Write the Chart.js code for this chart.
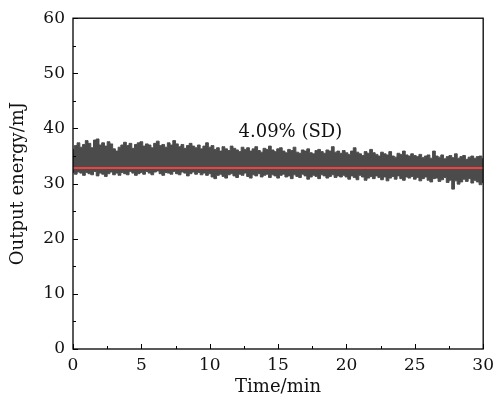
<!DOCTYPE html>
<html lang="en">
<head>
    <meta charset="UTF-8">
    <title>Output energy vs time</title>
    <style>
        html, body { margin: 0; padding: 0; background: #ffffff; }
        #wrap { width: 500px; height: 400px; }
    </style>
    <script src="https://cdn.jsdelivr.net/npm/chart.js@4/dist/chart.umd.min.js"></script>
</head>
<body>
    <div id="wrap"><canvas id="energyChart" width="500" height="400"></canvas></div>
    <script>
        // sample times (min)
        const timeMin = [
            0, 0.2, 0.4, 0.6, 0.8, 1, 1.2, 1.4, 1.6, 1.8, 2, 2.2, 2.4, 2.6, 2.8, 3, 3.2, 3.4, 3.6, 3.8, 4, 4.2, 4.4, 4.6, 4.8,
            5, 5.2, 5.4, 5.6, 5.8, 6, 6.2, 6.4, 6.6, 6.8, 7, 7.2, 7.4, 7.6, 7.8, 8, 8.2, 8.4, 8.6, 8.8, 9, 9.2, 9.4, 9.6, 9.8,
            10, 10.2, 10.4, 10.6, 10.8, 11, 11.2, 11.4, 11.6, 11.8, 12, 12.2, 12.4, 12.6, 12.8, 13, 13.2, 13.4, 13.6, 13.8, 14, 14.2, 14.4, 14.6, 14.8,
            15, 15.2, 15.4, 15.6, 15.8, 16, 16.2, 16.4, 16.6, 16.8, 17, 17.2, 17.4, 17.6, 17.8, 18, 18.2, 18.4, 18.6, 18.8, 19, 19.2, 19.4, 19.6, 19.8,
            20, 20.2, 20.4, 20.6, 20.8, 21, 21.2, 21.4, 21.6, 21.8, 22, 22.2, 22.4, 22.6, 22.8, 23, 23.2, 23.4, 23.6, 23.8, 24, 24.2, 24.4, 24.6, 24.8,
            25, 25.2, 25.4, 25.6, 25.8, 26, 26.2, 26.4, 26.6, 26.8, 27, 27.2, 27.4, 27.6, 27.8, 28, 28.2, 28.4, 28.6, 28.8, 29, 29.2, 29.4, 29.6, 29.8,
            30
        ];
        // upper envelope of the pulse energy trace (mJ)
        const energyUpper = [
            36.2, 36.9, 37.4, 36.6, 37.1, 37.8, 37.3, 36.5, 37.9, 38.1, 37.0, 37.4, 36.8, 37.6, 37.2, 36.3, 35.9, 36.6, 37.0, 37.5, 36.9, 37.3, 36.4, 37.1, 37.4,
            37.6, 36.8, 37.2, 37.0, 36.5, 37.3, 37.7, 36.9, 37.1, 36.6, 37.4, 37.0, 37.8, 37.2, 36.7, 37.1, 36.4, 36.9, 37.3, 36.8, 36.5, 37.0, 36.3, 36.8, 37.4,
            36.6, 36.9, 36.2, 36.5, 35.9, 36.7, 36.3, 36.0, 36.8, 36.4, 36.1, 35.8, 36.6, 36.2, 36.5, 35.9, 36.3, 36.7, 36.0, 35.7, 36.4, 36.2, 36.8, 36.1, 35.8,
            36.3, 36.5, 35.9, 35.6, 36.2, 36.0, 36.6, 35.7, 35.5, 36.1, 35.9, 36.3, 35.6, 35.4, 36.0, 36.2, 35.8, 35.5, 36.1, 35.9, 36.7, 35.7, 35.9, 35.5, 36.0,
            35.6, 35.3, 35.9, 36.5, 35.7, 35.4, 35.1, 35.8, 35.5, 36.2, 35.6, 35.3, 35.0, 35.7, 35.4, 35.2, 35.8, 35.0, 34.8, 35.5, 35.3, 35.9, 35.2, 35.0, 35.4,
            35.1, 34.9, 35.3, 34.7, 35.0, 35.2, 34.6, 35.9, 35.0, 34.8, 35.2, 34.5, 34.9, 35.1, 34.7, 35.4, 34.6, 34.9, 35.1, 34.4, 34.8, 35.0, 34.6, 34.9, 35.0,
            34.5
        ];
        // lower envelope of the pulse energy trace (mJ)
        const energyLower = [
            32.0, 31.7, 32.1, 31.9, 31.5, 32.0, 31.8, 31.6, 32.2, 31.4, 31.9, 31.7, 31.3, 31.8, 32.1, 31.6, 31.9, 31.5, 32.0, 31.8, 31.6, 32.2, 31.9, 31.5, 31.8,
            32.0, 31.7, 32.2, 31.9, 31.6, 32.1, 32.3, 31.8, 31.5, 32.0, 31.9, 31.7, 32.2, 31.8, 31.6, 32.1, 31.9, 31.4, 31.8, 32.1, 31.7, 32.0, 31.6, 31.9, 31.5,
            31.8, 31.2, 30.9, 31.5, 31.7, 31.3, 31.0, 31.6, 31.8, 31.4, 31.1, 31.7, 31.5, 31.9, 31.3, 31.0, 31.6, 31.4, 31.8, 31.2, 31.5, 31.7, 31.1, 31.6, 31.4,
            31.0, 31.5, 31.7, 31.2, 31.4, 30.9, 31.6, 31.3, 31.1, 31.7, 31.4, 30.8, 31.2, 31.5, 31.3, 30.9, 31.6, 31.4, 31.0, 31.3, 31.6, 31.1, 31.4, 31.2, 31.5,
            31.2, 30.8, 31.4, 31.1, 30.7, 31.5, 31.2, 30.6, 31.0, 31.3, 30.9, 31.4, 31.1, 30.7, 31.2, 30.5, 31.0, 31.3, 30.8, 31.4, 30.9, 30.6, 31.2, 31.0, 31.3,
            30.8, 31.1, 30.5, 30.9, 31.2, 30.6, 30.3, 30.9, 31.0, 30.4, 30.7, 31.1, 30.2, 30.6, 29.0, 30.5, 29.9, 30.3, 30.8, 30.4, 30.9, 30.1, 30.6, 30.3, 29.8,
            30.2
        ];
        // mean level (red line)
        const meanTime = [0, 30];
        const meanEnergy = [32.85, 32.85];

        const xTicks = [0, 5, 10, 15, 20, 25, 30];
        const xMinorTicks = [2.5, 7.5, 12.5, 17.5, 22.5, 27.5];
        const yTicks = [0, 10, 20, 30, 40, 50, 60];
        const yMinorTicks = [5, 15, 25, 35, 45, 55];

        const sdLabel = '4.09% (SD)';
        const sdLabelAt = { x: 15.9, y: 38.5 };

        const serif = "'DejaVu Serif', 'Liberation Serif', serif";
        const bandColor = '#4b4b4b';

        // box, inward ticks and the SD note
        const framePlugin = {
            id: 'frame',
            afterDraw(chart) {
                const ctx = chart.ctx;
                const a = chart.chartArea;
                const xs = chart.scales.x;
                const ys = chart.scales.y;
                ctx.save();
                ctx.strokeStyle = '#000';
                ctx.lineWidth = 1;
                ctx.beginPath();
                xTicks.forEach(v => {
                    const px = Math.round(xs.getPixelForValue(v)) + 0.5;
                    ctx.moveTo(px, a.bottom); ctx.lineTo(px, a.bottom - 5);
                });
                xMinorTicks.forEach(v => {
                    const px = Math.round(xs.getPixelForValue(v)) + 0.5;
                    ctx.moveTo(px, a.bottom); ctx.lineTo(px, a.bottom - 3);
                });
                yTicks.forEach(v => {
                    const py = Math.round(ys.getPixelForValue(v)) + 0.5;
                    ctx.moveTo(a.left, py); ctx.lineTo(a.left + 5, py);
                });
                yMinorTicks.forEach(v => {
                    const py = Math.round(ys.getPixelForValue(v)) + 0.5;
                    ctx.moveTo(a.left, py); ctx.lineTo(a.left + 3, py);
                });
                ctx.stroke();

                ctx.lineWidth = 1.3;
                ctx.strokeRect(a.left, a.top, a.right - a.left, a.bottom - a.top);

                ctx.fillStyle = '#111';
                ctx.font = '18px ' + serif;
                ctx.textAlign = 'center';
                ctx.textBaseline = 'alphabetic';
                ctx.fillText(sdLabel, xs.getPixelForValue(sdLabelAt.x), ys.getPixelForValue(sdLabelAt.y));
                ctx.restore();
            }
        };

        const ctx = document.getElementById('energyChart').getContext('2d');
        new Chart(ctx, {
            type: 'line',
            data: {
                datasets: [
                    {
                        label: 'mean',
                        data: meanTime.map((t, i) => ({ x: t, y: meanEnergy[i] })),
                        borderColor: '#f04040',
                        borderWidth: 2,
                        pointRadius: 0,
                        fill: false,
                        order: 0
                    },
                    {
                        label: 'upper',
                        data: timeMin.map((t, i) => ({ x: t, y: energyUpper[i] })),
                        borderColor: bandColor,
                        backgroundColor: bandColor,
                        borderWidth: 1,
                        pointRadius: 0,
                        stepped: 'middle',
                        fill: '+1',
                        order: 1
                    },
                    {
                        label: 'lower',
                        data: timeMin.map((t, i) => ({ x: t, y: energyLower[i] })),
                        borderColor: bandColor,
                        backgroundColor: bandColor,
                        borderWidth: 1,
                        pointRadius: 0,
                        stepped: 'middle',
                        fill: false,
                        order: 2
                    }
                ]
            },
            options: {
                responsive: false,
                animation: false,
                layout: { padding: { top: 16, right: 11, left: 0, bottom: 0 } },
                plugins: {
                    legend: { display: false },
                    tooltip: { enabled: false }
                },
                scales: {
                    x: {
                        type: 'linear',
                        min: 0,
                        max: 30,
                        grid: { display: false, drawTicks: false },
                        border: { display: false },
                        ticks: {
                            stepSize: 5,
                            padding: 6,
                            color: '#111',
                            maxRotation: 0,
                            font: { family: serif, size: 17 }
                        },
                        title: {
                            display: true,
                            text: 'Time/min',
                            color: '#111',
                            padding: 2,
                            font: { family: serif, size: 18 }
                        },
                        afterFit(scale) { scale.height = 51; }
                    },
                    y: {
                        min: 0,
                        max: 60,
                        grid: { display: false, drawTicks: false },
                        border: { display: false },
                        ticks: {
                            stepSize: 10,
                            padding: 8,
                            color: '#111',
                            font: { family: serif, size: 17 }
                        },
                        title: {
                            display: true,
                            text: 'Output energy/mJ',
                            color: '#111',
                            padding: 8,
                            font: { family: serif, size: 18 }
                        },
                        afterFit(scale) { scale.width = 73; }
                    }
                }
            },
            plugins: [framePlugin]
        });
    </script>
</body>
</html>
